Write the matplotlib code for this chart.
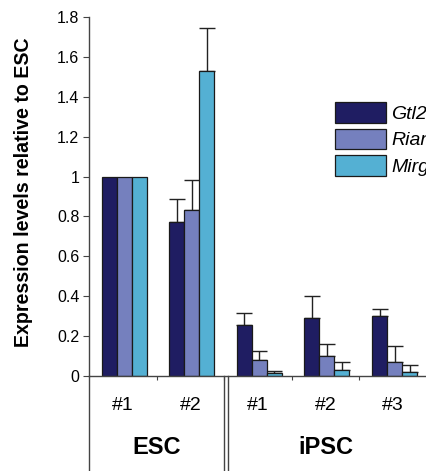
import matplotlib
matplotlib.use("Agg")
import matplotlib.pyplot as plt
import numpy as np
from matplotlib.patches import Patch

plt.rcParams['font.family'] = ['Liberation Sans', 'DejaVu Sans']

# data
samples = ["#1", "#2", "#1", "#2", "#3"]
groups = ["ESC", "iPSC"]
genes = ["Gtl2", "Rian", "Mirg"]
colors = ["#1f1d62", "#7580be", "#54b0d3"]

gtl2 = [1.0, 0.77, 0.255, 0.29, 0.303]
rian = [1.0, 0.833, 0.08, 0.10, 0.068]
mirg = [1.0, 1.528, 0.013, 0.032, 0.02]
gtl2_err = [0, 0.117, 0.06, 0.113, 0.032]
rian_err = [0, 0.149, 0.045, 0.062, 0.084]
mirg_err = [0, 0.215, 0.012, 0.04, 0.033]

W, H = 426, 471
fig = plt.figure(figsize=(W / 100, H / 100), dpi=100)
ax = fig.add_axes([89 / W, (H - 376) / H, (427 - 89) / W, (376 - 17) / H])

x = np.arange(len(samples))
bw = 0.222
for i, (vals, errs) in enumerate([(gtl2, gtl2_err), (rian, rian_err), (mirg, mirg_err)]):
    pos = x + (i - 1) * bw + 0.02
    errs = np.array(errs)
    ax.bar(pos, vals, width=bw, color=colors[i], edgecolor="#1a1a1a", linewidth=0.9,
           label=genes[i], zorder=2)
    show = errs > 0
    ax.errorbar(pos[show], np.array(vals)[show], yerr=[np.zeros(show.sum()), errs[show]],
                fmt="none", ecolor="#222222", elinewidth=1.0, capsize=6, capthick=1.0, zorder=1)

ax.set_xlim(-0.5, 4.5)
ax.set_ylim(0, 1.8)
ax.set_yticks(np.arange(0, 1.81, 0.2))
ax.set_yticklabels(["0", "0.2", "0.4", "0.6", "0.8", "1", "1.2", "1.4", "1.6", "1.8"])
ax.set_xticks([0.5, 1.5, 2.5, 3.5])
ax.set_xticklabels([])
ax.tick_params(axis="y", labelsize=11.5, length=4, width=0.8, color="#444444", pad=3)
ax.tick_params(axis="x", length=3, width=0.8, color="#444444", direction="out")
for s in ["top", "right"]:
    ax.spines[s].set_visible(False)
ax.spines["left"].set_color("#444444")
ax.spines["bottom"].set_color("#444444")
ax.spines["left"].set_linewidth(1.0)
ax.spines["bottom"].set_linewidth(1.0)

ax.set_ylabel("Expression levels relative to ESC", fontsize=14.1, fontweight="bold")
ax.yaxis.set_label_coords(-56 / (427 - 89), 0.513)

# table-like area below the axis
trans = ax.get_xaxis_transform()
ybot = -(471 - 376) / (376 - 17)
ax.plot([-0.5, -0.5], [0, ybot], transform=trans, color="#444444", lw=1.0, clip_on=False)
ax.plot([1.5, 1.5], [0, ybot], transform=trans, color="#444444", lw=1.0, clip_on=False)
ax.plot([1.55, 1.55], [0, ybot], transform=trans, color="#444444", lw=1.0, clip_on=False)

for xi, s in zip(x, samples):
    ax.text(xi, -29 / 359, s, transform=trans, ha="center", va="center", fontsize=14)
ax.text(0.5, -72 / 359, groups[0], transform=trans, ha="center", va="center",
        fontsize=17, fontweight="bold")
ax.text(3.0, -72 / 359, groups[1], transform=trans, ha="center", va="center",
        fontsize=17, fontweight="bold")

# legend sits at the right edge, its labels run off the figure as in the source
handles = [Patch(facecolor=c, edgecolor="#1a1a1a", linewidth=0.9) for c in colors]
fig.legend(handles, genes, loc="upper left", bbox_to_anchor=(335 / W, 1 - 102 / H),
           frameon=False, prop={"size": 14, "style": "italic"}, handlelength=2.6,
           handleheight=1.25, labelspacing=0.3, handletextpad=0.3, borderpad=0,
           borderaxespad=0)

fig.savefig("out.png", dpi=100)
